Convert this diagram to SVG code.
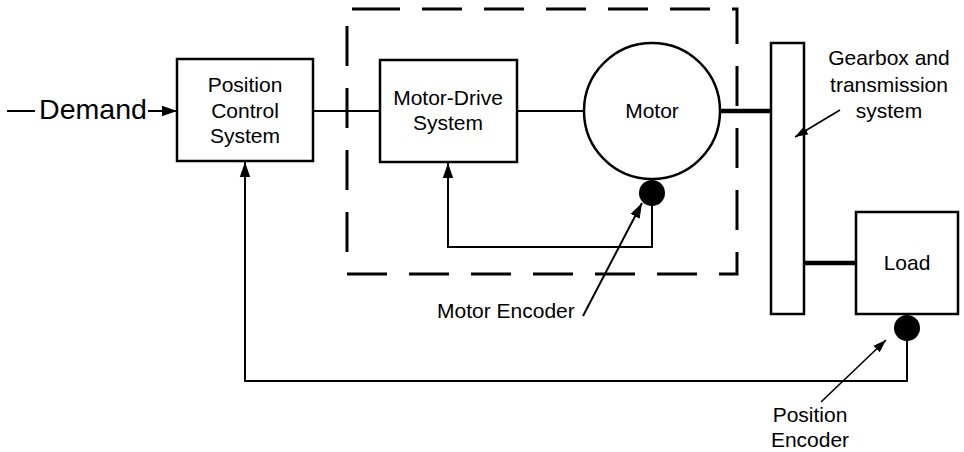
<svg xmlns="http://www.w3.org/2000/svg" width="964" height="452" viewBox="0 0 964 452">
<style>
.box{fill:#fff;stroke:#000;stroke-width:2.5}
.ln{fill:none;stroke:#000;stroke-width:2}
.thin{fill:none;stroke:#000;stroke-width:1.6}
.shaft{fill:none;stroke:#000;stroke-width:4.5}
.t{font-family:"Liberation Sans",Arial,Helvetica,sans-serif;font-size:21px;fill:#000;text-anchor:middle}
</style>
<defs>
<marker id="ah" markerUnits="userSpaceOnUse" markerWidth="16" markerHeight="12" refX="15" refY="6" orient="auto">
<path d="M0,0.8 L15,6 L0,11.2 Z" fill="#000"/>
</marker>
<marker id="ahs" markerUnits="userSpaceOnUse" markerWidth="14" markerHeight="10" refX="13" refY="5" orient="auto">
<path d="M0,0.5 L13,5 L0,9.5 Z" fill="#000"/>
</marker>
</defs>
<rect x="0" y="0" width="964" height="452" fill="#fff"/>
<path d="M360,9 H737 V274 H347 V9 Z" fill="none" stroke="#000" stroke-width="3" stroke-dasharray="40 22"/>
<g id="demand"><text class="t" x="39" y="119" style="font-size:28px;text-anchor:start" textLength="108" lengthAdjust="spacingAndGlyphs">Demand</text></g>
<g id="position-control">
<rect class="box" x="177" y="59" width="136" height="102"/>
<text class="t" x="245" y="92">Position</text>
<text class="t" x="245" y="118">Control</text>
<text class="t" x="245" y="143">System</text>
</g>
<g id="motor-drive">
<rect class="box" x="380" y="60" width="137" height="102"/>
<text class="t" x="448" y="105">Motor-Drive</text>
<text class="t" x="448" y="130">System</text>
</g>
<g id="motor">
<circle class="box" cx="652" cy="111" r="68"/>
<text class="t" x="652" y="118">Motor</text>
</g>
<g id="motor-encoder">
<circle cx="652" cy="193" r="13" fill="#000"/>
<text class="t" x="437" y="318" style="text-anchor:start">Motor Encoder</text>
</g>
<g id="gearbox">
<rect class="box" x="771" y="43" width="33" height="271"/>
<text class="t" x="889" y="65">Gearbox and</text>
<text class="t" x="889" y="92">transmission</text>
<text class="t" x="889" y="118">system</text>
</g>
<g id="load">
<rect class="box" x="856" y="212" width="102" height="102"/>
<text class="t" x="907" y="270">Load</text>
</g>
<g id="position-encoder">
<circle cx="907" cy="328" r="13" fill="#000"/>
<text class="t" x="810" y="422">Position</text>
<text class="t" x="810" y="447">Encoder</text>
</g>
<g id="connectors">
<line class="ln" x1="7" y1="111" x2="35" y2="111"/>
<line class="ln" x1="148" y1="111" x2="177" y2="111" marker-end="url(#ah)"/>
<line class="ln" x1="314" y1="111" x2="379" y2="111"/>
<line class="ln" x1="518" y1="111" x2="584" y2="111"/>
<line class="shaft" x1="721" y1="111" x2="771" y2="111"/>
<line class="shaft" x1="805" y1="263" x2="856" y2="263"/>
<path class="ln" d="M652,205 V247 H448 V163" marker-end="url(#ah)"/>
<path class="ln" d="M907,340 V381 H245 V162" marker-end="url(#ah)"/>
<line class="ln" x1="583" y1="316" x2="642" y2="203" marker-end="url(#ah)"/>
<line class="thin" x1="840" y1="110" x2="795" y2="137" marker-end="url(#ahs)"/>
<line class="thin" x1="821" y1="402" x2="886" y2="340" marker-end="url(#ahs)"/>
</g>
</svg>
